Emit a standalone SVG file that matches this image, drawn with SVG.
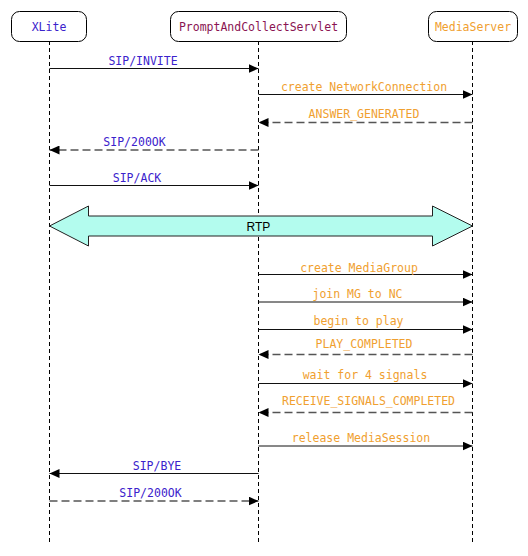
<svg xmlns="http://www.w3.org/2000/svg" width="528" height="556" viewBox="0 0 528 556">
<style>
.box{fill:#fff;stroke:#000;stroke-width:1}
.life{stroke:#000;stroke-width:1;stroke-dasharray:4,3;fill:none}
.msg{stroke:#111;stroke-width:1;fill:none}
.ret{stroke:#555;stroke-width:1.5;stroke-dasharray:8,4;fill:none}
.t{font-family:"DejaVu Sans Mono","Liberation Mono",monospace;font-size:11.5px;text-anchor:middle}
.blue{fill:#3b22cc}
.orange{fill:#f0a030}
.maroon{fill:#8a1452}
</style>
<defs>
<marker id="ah" markerUnits="userSpaceOnUse" markerWidth="11" markerHeight="9" refX="10" refY="4.5" orient="auto">
<path d="M0,0 L10,4.5 L0,9 z" fill="#000"/>
</marker>
</defs>
<g id="lifelines">
<line class="life" x1="49.5" y1="41" x2="49.5" y2="542"/>
<line class="life" x1="258.5" y1="41" x2="258.5" y2="542"/>
<line class="life" x1="472.5" y1="41" x2="472.5" y2="542"/>
</g>
<g id="node-xlite">
<rect class="box" x="11.5" y="11.5" width="75" height="30" rx="8"/>
<text class="t blue" x="49" y="30.5">XLite</text>
</g>
<g id="node-servlet">
<rect class="box" x="170.5" y="11.5" width="176" height="30" rx="8"/>
<text class="t maroon" x="258.5" y="30.5">PromptAndCollectServlet</text>
</g>
<g id="node-mediaserver">
<rect class="box" x="428.5" y="11.5" width="89" height="30" rx="8"/>
<text class="t orange" x="473" y="30.5">MediaServer</text>
</g>
<g id="connectors">
<line class="msg" x1="49.5" y1="68.5" x2="258.5" y2="68.5" marker-end="url(#ah)"/>
<text class="t blue" x="143" y="65">SIP/INVITE</text>
<line class="msg" x1="258.5" y1="94.5" x2="472.5" y2="94.5" marker-end="url(#ah)"/>
<text class="t orange" x="364" y="91">create NetworkConnection</text>
<line class="ret" x1="472.5" y1="122.5" x2="258.5" y2="122.5" marker-end="url(#ah)"/>
<text class="t orange" x="364" y="118">ANSWER_GENERATED</text>
<line class="ret" x1="258.5" y1="150" x2="49.5" y2="150" marker-end="url(#ah)"/>
<text class="t blue" x="134.5" y="146">SIP/200OK</text>
<line class="msg" x1="49.5" y1="185.5" x2="258.5" y2="185.5" marker-end="url(#ah)"/>
<text class="t blue" x="137" y="182">SIP/ACK</text>
<g id="rtp">
<polygon points="49.5,226 88.5,206 88.5,216 432.5,216 432.5,206 472.5,226 432.5,246 432.5,236 88.5,236 88.5,246" fill="#b3fcee" stroke="#222" stroke-width="1"/>
<text x="258.5" y="230.5" font-family="Liberation Sans, Arial, sans-serif" font-size="12" text-anchor="middle" fill="#000">RTP</text>
</g>
<line class="msg" x1="258.5" y1="274.5" x2="472.5" y2="274.5" marker-end="url(#ah)"/>
<text class="t orange" x="359" y="271.5">create MediaGroup</text>
<line class="msg" x1="258.5" y1="302" x2="472.5" y2="302" marker-end="url(#ah)"/>
<text class="t orange" x="357.5" y="298">join MG to NC</text>
<line class="msg" x1="258.5" y1="329.5" x2="472.5" y2="329.5" marker-end="url(#ah)"/>
<text class="t orange" x="358.5" y="324.5">begin to play</text>
<line class="ret" x1="472.5" y1="354.5" x2="258.5" y2="354.5" marker-end="url(#ah)"/>
<text class="t orange" x="364" y="348">PLAY_COMPLETED</text>
<line class="msg" x1="258.5" y1="383.5" x2="472.5" y2="383.5" marker-end="url(#ah)"/>
<text class="t orange" x="365" y="379">wait for 4 signals</text>
<line class="ret" x1="472.5" y1="412.5" x2="258.5" y2="412.5" marker-end="url(#ah)"/>
<text class="t orange" x="368.5" y="405">RECEIVE_SIGNALS_COMPLETED</text>
<line class="msg" x1="258.5" y1="446" x2="472.5" y2="446" marker-end="url(#ah)"/>
<text class="t orange" x="361" y="442">release MediaSession</text>
<line class="msg" x1="258.5" y1="473.5" x2="49.5" y2="473.5" marker-end="url(#ah)"/>
<text class="t blue" x="157" y="470">SIP/BYE</text>
<line class="ret" x1="49.5" y1="501" x2="258.5" y2="501" marker-end="url(#ah)"/>
<text class="t blue" x="150.5" y="497">SIP/200OK</text>
</g>
</svg>
